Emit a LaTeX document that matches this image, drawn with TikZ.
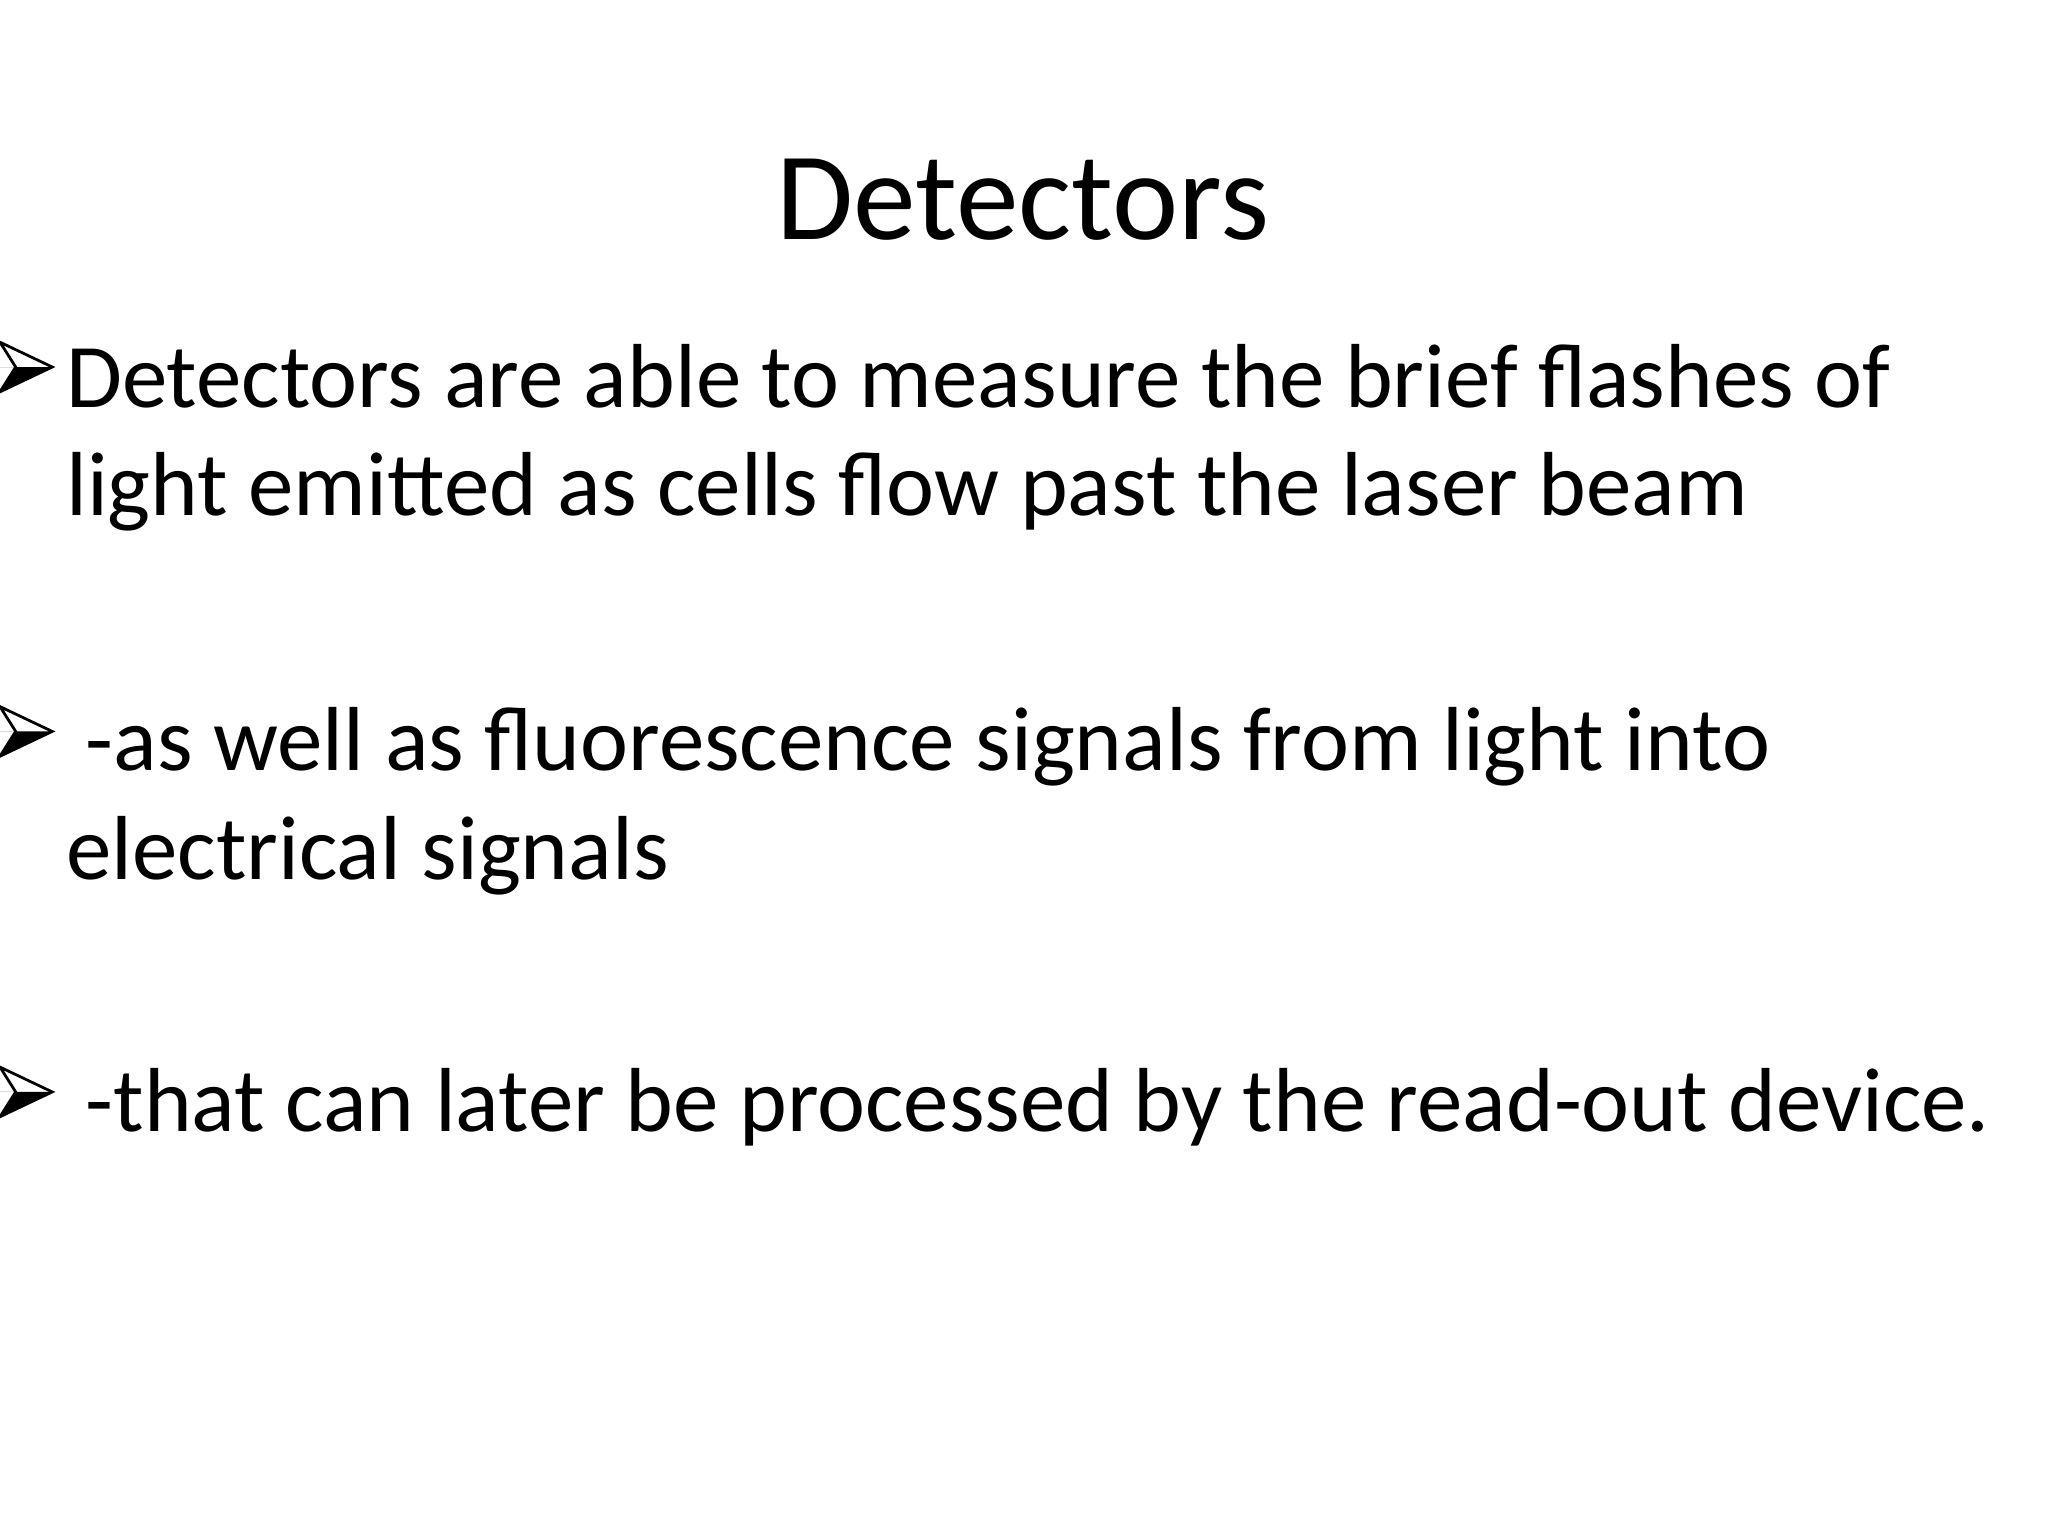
\documentclass[tikz,border=0pt]{standalone}
\usepackage{fontspec}
\setmainfont{Carlito}
\begin{document}
\begin{tikzpicture}[x=0.01cm,y=-0.01cm,
  body/.style={anchor=base west,inner sep=0pt,font=\fontsize{19.8}{24}\selectfont},
  bul/.style={line width=0.6pt,line join=miter}]
\useasboundingbox (0,0) rectangle (1568,1176);
\node[anchor=base,inner sep=0pt,font=\fontsize{27.3}{32}\selectfont] (title) at (783,183) {Detectors};
\node[body] (b1a) at (50,312) {Detectors are able to measure the brief flashes of};
\node[body] (b1b) at (50,395) {light emitted as cells flow past the laser beam};
\node[body] (b2a) at (50,590) {\hspace{0.15cm}-as well as fluorescence signals from light into};
\node[body] (b2b) at (50,673) {electrical signals};
\node[body] (b3) at (50,866) {\hspace{0.15cm}-that can later be processed by the read-out device.};
\foreach \y in {281,560,836}{
  \fill (0,\y) -- (40,\y) -- (0,\y+19) -- (12,\y) -- cycle;
  \draw[bul] (0,\y-19) -- (40,\y) -- (0,\y+19) -- (12,\y) -- cycle;
}
\end{tikzpicture}
\end{document}
